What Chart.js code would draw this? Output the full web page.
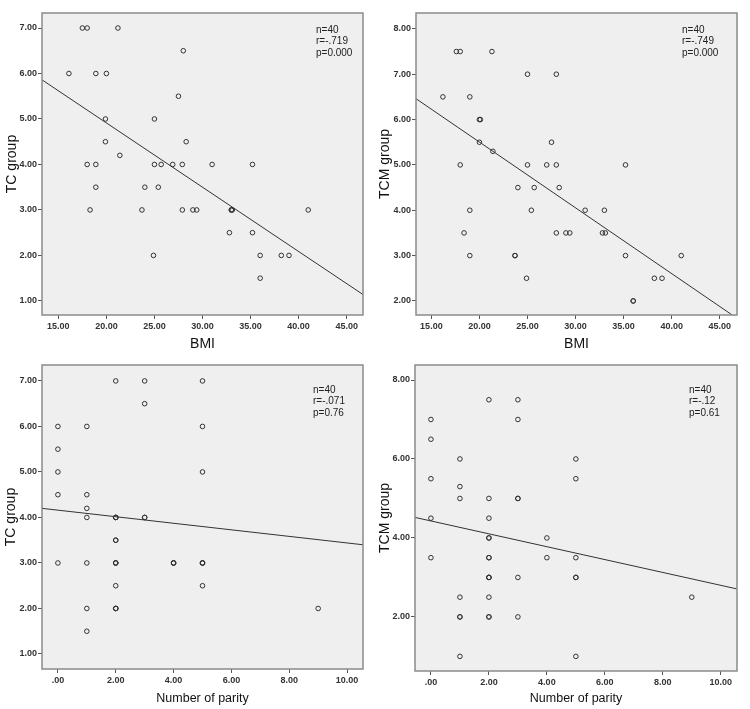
<!DOCTYPE html>
<html>
<head>
<meta charset="utf-8">
<script src="https://cdn.jsdelivr.net/npm/chart.js@4/dist/chart.umd.min.js"></script>
<style>
  html, body { margin: 0; padding: 0; background: #fff; }
  #wrap { position: relative; width: 750px; height: 709px; overflow: hidden; }
  .cv { position: absolute; }
</style>
</head>
<body>
<div id="wrap">
  <canvas id="cA" class="cv" style="left:0;top:0"></canvas>
  <canvas id="cB" class="cv" style="left:375px;top:0"></canvas>
  <canvas id="cC" class="cv" style="left:0;top:354px"></canvas>
  <canvas id="cD" class="cv" style="left:375px;top:354px"></canvas>
</div>
<script>
// ---------- Data ----------
// Panel A: BMI vs TC group
const bmiA = [17.5,18.0,21.2,28.0,16.1,18.9,20.0,27.5,19.9,25.0,19.9,28.3,21.4,18.0,18.9,25.0,25.7,26.9,27.9,31.0,35.2,18.9,24.0,25.4,18.3,23.7,27.9,29.0,29.4,33.0,33.1,41.0,32.8,35.2,24.9,36.0,38.2,39.0,36.0,33.0];
const tcA  = [7,7,7,6.5,6,6,6,5.5,5,5,4.5,4.5,4.2,4,4,4,4,4,4,4,4,3.5,3.5,3.5,3,3,3,3,3,3,3,3,2.5,2.5,2,2,2,2,1.5,3];
const fitAx = [13.3, 46.7];
const fitAy = [5.86, 1.14];
const statsA = ['n=40', 'r=-.719', 'p=0.000'];

// Panel B: BMI vs TCM group
const bmiB = [17.6,18.0,21.3,25.0,28.0,16.2,19.0,20.0,20.1,20.0,27.5,21.4,18.0,25.0,27.0,28.0,35.2,24.0,25.7,28.3,19.0,25.4,31.0,33.0,18.4,28.0,29.0,29.4,32.8,33.1,19.0,23.7,35.2,41.0,24.9,38.2,39.0,36.0,36.0,23.7];
const tcmB = [7.5,7.5,7.5,7,7,6.5,6.5,6,6,5.5,5.5,5.3,5,5,5,5,5,4.5,4.5,4.5,4,4,4,4,3.5,3.5,3.5,3.5,3.5,3.5,3,3,3,3,2.5,2.5,2.5,2,2,3];
const fitBx = [13.4, 46.3];
const fitBy = [6.46, 1.69];
const statsB = ['n=40', 'r=-.749', 'p=0.000'];

// Panel C: Number of parity vs TC group
const parC = [0,0,0,0,0, 1,1,1,1,1,1,1, 2,2,2,2,2,2,2,2,2,2, 3,3,3,3, 4,4, 5,5,5,5,5,5, 9, 2,2,2,4,5];
const tcC  = [6,5.5,5,4.5,3, 6,4.5,4.2,4,3,2,1.5, 7,4,4,3.5,3.5,3,3,2.5,2,2, 7,6.5,4,4, 3,3, 7,6,5,3,3,2.5, 2, 3,2,4,3,3];
const fitCx = [-0.55, 10.55];
const fitCy = [4.20, 3.40];
const statsC = ['n=40', 'r=-.071', 'p=0.76'];

// Panel D: Number of parity vs TCM group
const parD = [0,0,0,0,0, 1,1,1,1,1,1,1, 2,2,2,2,2,2,2,2,2,2,2,2, 3,3,3,3,3,3, 4,4, 5,5,5,5,5,5, 9, 2];
const tcmD = [7,6.5,5.5,4.5,3.5, 6,5.3,5,2.5,2,2,1, 7.5,5,4.5,4,4,3.5,3.5,3,3,2.5,2,2, 7.5,7,5,5,3,2, 4,3.5, 6,5.5,3.5,3,3,1, 2.5, 3];
const fitDx = [-0.55, 10.55];
const fitDy = [4.52, 2.71];
const statsD = ['n=40', 'r=-.12', 'p=0.61'];

// Tick values
const xTicksBMI    = [15, 20, 25, 30, 35, 40, 45];
const xTicksParity = [0, 2, 4, 6, 8, 10];
const yTicksTC     = [1, 2, 3, 4, 5, 6, 7];
const yTicksTCMtop = [2, 3, 4, 5, 6, 7, 8];
const yTicksTCMbot = [2, 4, 6, 8];

// Axis titles
const titleBMI = 'BMI';
const titleParity = 'Number of parity';
const titleTC = 'TC group';
const titleTCM = 'TCM group';

// ---------- Rendering ----------
const FONT = '"Liberation Sans", Arial, Helvetica, sans-serif';
const fmt = v => (v === 0 ? '.00' : Number(v).toFixed(2));

const framePlugin = {
  id: 'frame',
  beforeDraw(chart) {
    const a = chart.chartArea, ctx = chart.ctx;
    ctx.save();
    ctx.fillStyle = '#efefef';
    ctx.fillRect(a.left, a.top, a.right - a.left, a.bottom - a.top);
    ctx.restore();
  },
  afterDraw(chart, args, opts) {
    const a = chart.chartArea, ctx = chart.ctx;
    ctx.save();
    ctx.strokeStyle = '#8a8a8a';
    ctx.lineWidth = 1.5;
    ctx.strokeRect(a.left, a.top, a.right - a.left, a.bottom - a.top);
    // stats text
    ctx.fillStyle = '#222';
    ctx.font = '10px ' + FONT;
    ctx.textBaseline = 'middle';
    ctx.textAlign = 'left';
    const lines = opts.lines || [];
    lines.forEach((t, i) => {
      ctx.fillText(t, a.right - opts.dx, a.top + opts.dy + i * 11.5);
    });
    ctx.restore();
  }
};

function makeChart(id, w, h, p) {
  const cv = document.getElementById(id);
  cv.width = w; cv.height = h;
  cv.style.width = w + 'px'; cv.style.height = h + 'px';
  const pts = p.xs.map((x, i) => ({ x: x, y: p.ys[i] }));
  const fit = p.fx.map((x, i) => ({ x: x, y: p.fy[i] }));
  return new Chart(cv, {
    type: 'scatter',
    data: {
      datasets: [
        {
          type: 'line',
          data: fit,
          borderColor: '#333',
          borderWidth: 1,
          pointRadius: 0,
          fill: false,
          order: 2
        },
        {
          data: pts,
          pointRadius: 2.3,
          pointBorderWidth: 1,
          pointBorderColor: '#333',
          pointBackgroundColor: 'rgba(0,0,0,0)',
          order: 1
        }
      ]
    },
    options: {
      responsive: false,
      animation: false,
      devicePixelRatio: 1,
      layout: { padding: { left: 0, top: p.top, right: w - p.right, bottom: 0 } },
      plugins: {
        legend: { display: false },
        tooltip: { enabled: false },
        frame: { lines: p.stats, dx: p.sdx, dy: p.sdy }
      },
      scales: {
        x: {
          type: 'linear',
          min: p.xmin, max: p.xmax,
          afterBuildTicks: s => { s.ticks = p.xticks.map(v => ({ value: v })); },
          afterFit: s => { s.height = h - p.bottom; },
          grid: { drawOnChartArea: false, drawTicks: true, tickLength: 4, color: '#555', lineWidth: 1 },
          border: { display: false },
          ticks: { callback: fmt, padding: 2, maxRotation: 0, autoSkip: false,
                   color: '#333', font: { family: FONT, size: 9, weight: 'bold' } },
          title: { display: true, text: p.xtitle, color: '#111',
                   font: { family: FONT, size: p.xtsize }, padding: { top: 0, bottom: p.xtpad } }
        },
        y: {
          type: 'linear',
          min: p.ymin, max: p.ymax,
          afterBuildTicks: s => { s.ticks = p.yticks.map(v => ({ value: v })); },
          afterFit: s => { s.width = p.left; },
          grid: { drawOnChartArea: false, drawTicks: true, tickLength: 4, color: '#555', lineWidth: 1 },
          border: { display: false },
          ticks: { callback: fmt, padding: 1, autoSkip: false,
                   color: '#333', font: { family: FONT, size: 9, weight: 'bold' } },
          title: { display: true, text: p.ytitle, color: '#111',
                   font: { family: FONT, size: 14 }, padding: { top: p.ytpad, bottom: 0 } }
        }
      }
    },
    plugins: [framePlugin]
  });
}

makeChart('cA', 375, 354, {
  xs: bmiA, ys: tcA, fx: fitAx, fy: fitAy, stats: statsA,
  left: 42, right: 363, top: 13, bottom: 315,
  xmin: 13.3, xmax: 46.7, ymin: 0.69, ymax: 7.33,
  xticks: xTicksBMI, yticks: yTicksTC,
  xtitle: titleBMI, ytitle: titleTC, xtsize: 14, xtpad: 1.5, ytpad: 3.5,
  sdx: 47, sdy: 17
});
makeChart('cB', 375, 354, {
  xs: bmiB, ys: tcmB, fx: fitBx, fy: fitBy, stats: statsB,
  left: 41, right: 362, top: 13, bottom: 315,
  xmin: 13.4, xmax: 46.8, ymin: 1.69, ymax: 8.35,
  xticks: xTicksBMI, yticks: yTicksTCMtop,
  xtitle: titleBMI, ytitle: titleTCM, xtsize: 14, xtpad: 1.5, ytpad: 2,
  sdx: 55, sdy: 17
});
makeChart('cC', 375, 355, {
  xs: parC, ys: tcC, fx: fitCx, fy: fitCy, stats: statsC,
  left: 42, right: 363, top: 11, bottom: 315,
  xmin: -0.55, xmax: 10.55, ymin: 0.67, ymax: 7.35,
  xticks: xTicksParity, yticks: yTicksTC,
  xtitle: titleParity, ytitle: titleTC, xtsize: 12.5, xtpad: 3, ytpad: 3,
  sdx: 50, sdy: 25
});
makeChart('cD', 375, 355, {
  xs: parD, ys: tcmD, fx: fitDx, fy: fitDy, stats: statsD,
  left: 40, right: 362, top: 11, bottom: 317,
  xmin: -0.55, xmax: 10.56, ymin: 0.63, ymax: 8.38,
  xticks: xTicksParity, yticks: yTicksTCMbot,
  xtitle: titleParity, ytitle: titleTCM, xtsize: 12.5, xtpad: 3, ytpad: 2,
  sdx: 48, sdy: 25
});
</script>
</body>
</html>
